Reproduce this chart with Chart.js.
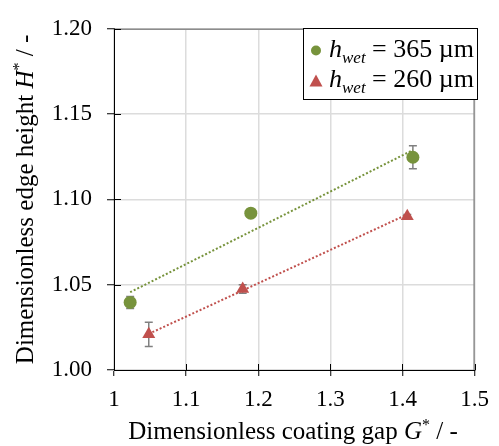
<!DOCTYPE html>
<html>
<head>
<meta charset="utf-8">
<script src="https://cdn.jsdelivr.net/npm/chart.js@4/dist/chart.umd.min.js"></script>
<style>
  html, body { margin: 0; padding: 0; background: #ffffff; }
  #wrap { width: 499px; height: 446px; position: relative; }
</style>
</head>
<body>
<div id="wrap"><canvas id="c" width="499" height="446"></canvas></div>
<script>
// ---- data ----
const xTickValues = [1, 1.1, 1.2, 1.3, 1.4, 1.5];
const xTickLabels = ['1', '1.1', '1.2', '1.3', '1.4', '1.5'];
const yTickValues = [1.00, 1.05, 1.10, 1.15, 1.20];
const yTickLabels = ['1.00', '1.05', '1.10', '1.15', '1.20'];

const seriesSymbol = ['h', 'h'];
const seriesSub = ['wet', 'wet'];
const seriesRest = [' = 365 µm', ' = 260 µm'];

const wet365X = [1.0224, 1.1897, 1.4144];
const wet365Y = [1.0396, 1.0919, 1.1247];
const wet365Err = [0.0035, 0.0010, 0.0068];

const wet260X = [1.0482, 1.1784, 1.4066];
const wet260Y = [1.0209, 1.0475, 1.0901];
const wet260Err = [0.0071, 0.0025, 0.0010];

const trend365X = [1.0224, 1.4144];
const trend365Y = [1.0456, 1.1289];
const trend260X = [1.0482, 1.4066];
const trend260Y = [1.0212, 1.0912];

const xTitle = ['Dimensionless coating gap ', 'G', '*', ' / -'];
const yTitle = ['Dimensionless edge height ', 'H', '*', ' / -'];

// ---- styles ----
const GREEN = '#77933c';
const RED = '#c0504d';
const SERIF = "'Liberation Serif', 'Times New Roman', serif";

const pts = (xs, ys) => xs.map((x, i) => ({ x: x, y: ys[i] }));

const errorBars = {
  id: 'errorBars',
  beforeDatasetsDraw(chart) {
    const ctx = chart.ctx;
    const xs = chart.scales.x, ys = chart.scales.y;
    ctx.save();
    ctx.strokeStyle = '#808080';
    ctx.lineWidth = 1.5;
    chart.data.datasets.forEach(ds => {
      if (!ds.errors) return;
      ds.data.forEach((p, i) => {
        const e = ds.errors[i];
        const px = xs.getPixelForValue(p.x);
        const top = ys.getPixelForValue(p.y + e);
        const bot = ys.getPixelForValue(p.y - e);
        ctx.beginPath();
        ctx.moveTo(px, top); ctx.lineTo(px, bot);
        ctx.moveTo(px - 4, top); ctx.lineTo(px + 4, top);
        ctx.moveTo(px - 4, bot); ctx.lineTo(px + 4, bot);
        ctx.stroke();
      });
    });
    ctx.restore();
  }
};

function drawMixed(ctx, parts, size, cx, y, center) {
  // parts: [normal, italic, superscript, normal]
  const fNormal = size + 'px ' + SERIF;
  const fItalic = 'italic ' + size + 'px ' + SERIF;
  const fSup = Math.round(size * 0.62) + 'px ' + SERIF;
  const segs = [
    { t: parts[0], f: fNormal, dy: 0 },
    { t: parts[1], f: fItalic, dy: 0 },
    { t: parts[2], f: fSup, dy: -size * 0.38 },
    { t: parts[3], f: fNormal, dy: 0 }
  ];
  let total = 0;
  segs.forEach(s => { ctx.font = s.f; s.w = ctx.measureText(s.t).width; total += s.w; });
  let x = center ? cx - total / 2 : cx;
  ctx.textBaseline = 'alphabetic';
  ctx.textAlign = 'left';
  segs.forEach(s => { ctx.font = s.f; ctx.fillText(s.t, x, y + s.dy); x += s.w; });
}

const decorations = {
  id: 'decorations',
  beforeDatasetsDraw(chart) {
    const ctx = chart.ctx;
    const a = chart.chartArea;
    const xs = chart.scales.x, ys = chart.scales.y;
    ctx.save();
    // plot border top & right
    ctx.strokeStyle = '#8c8c8c';
    ctx.lineWidth = 1.5;
    ctx.beginPath();
    ctx.moveTo(a.left, a.top + 0.5);
    ctx.lineTo(a.right - 0.5, a.top + 0.5);
    ctx.lineTo(a.right - 0.5, a.bottom);
    ctx.stroke();
    // inner half of cross tick marks
    ctx.strokeStyle = '#000';
    ctx.lineWidth = 1;
    ctx.beginPath();
    xTickValues.forEach(v => {
      const px = Math.round(xs.getPixelForValue(v)) + 0.5;
      ctx.moveTo(px, a.bottom); ctx.lineTo(px, a.bottom - 6);
    });
    yTickValues.forEach(v => {
      const py = Math.round(ys.getPixelForValue(v)) + 0.5;
      ctx.moveTo(a.left, py); ctx.lineTo(a.left + 7, py);
    });
    ctx.stroke();
    ctx.restore();
  },
  afterDraw(chart) {
    const ctx = chart.ctx;
    const a = chart.chartArea;
    ctx.save();
    ctx.fillStyle = '#000';
    // axis titles
    drawMixed(ctx, xTitle, 25, 293, 439, true);
    ctx.save();
    ctx.translate(33, (a.top + a.bottom) / 2);
    ctx.rotate(-Math.PI / 2);
    drawMixed(ctx, yTitle, 25, 0, 0, true);
    ctx.restore();
    // legend
    const bx = 303.5, by = 28.5, bw = 174, bh = 71;
    ctx.fillStyle = '#fff';
    ctx.fillRect(bx, by, bw, bh);
    ctx.strokeStyle = '#000';
    ctx.lineWidth = 1;
    ctx.strokeRect(bx, by, bw, bh);
    const rowsY = [57, 87];
    const markY = [50.5, 81.5];
    // markers
    ctx.fillStyle = GREEN;
    ctx.beginPath(); ctx.arc(316, markY[0], 5, 0, Math.PI * 2); ctx.fill();
    ctx.fillStyle = RED;
    ctx.beginPath();
    ctx.moveTo(316, markY[1] - 7);
    ctx.lineTo(322.5, markY[1] + 5);
    ctx.lineTo(309.5, markY[1] + 5);
    ctx.closePath(); ctx.fill();
    ctx.fillStyle = '#000';
    ctx.textBaseline = 'alphabetic';
    ctx.textAlign = 'left';
    for (let i = 0; i < 2; i++) {
      let x = 329;
      ctx.font = 'italic 26px ' + SERIF;
      ctx.fillText(seriesSymbol[i], x, rowsY[i]);
      x += ctx.measureText(seriesSymbol[i]).width;
      ctx.font = 'italic 17px ' + SERIF;
      ctx.fillText(seriesSub[i], x, rowsY[i] + 6);
      x += ctx.measureText(seriesSub[i]).width;
      ctx.font = '26px ' + SERIF;
      ctx.fillText(seriesRest[i], x, rowsY[i]);
    }
    ctx.restore();
  }
};

new Chart(document.getElementById('c'), {
  type: 'scatter',
  data: {
    datasets: [
      {
        label: seriesSymbol[0] + seriesSub[0] + seriesRest[0],
        data: pts(wet365X, wet365Y),
        errors: wet365Err,
        backgroundColor: GREEN,
        borderColor: GREEN,
        pointStyle: 'circle',
        pointRadius: 6.5,
        pointBorderWidth: 0,
        order: 0
      },
      {
        label: seriesSymbol[1] + seriesSub[1] + seriesRest[1],
        data: pts(wet260X, wet260Y),
        errors: wet260Err,
        backgroundColor: RED,
        borderColor: RED,
        pointStyle: 'triangle',
        pointRadius: 7.5,
        pointBorderWidth: 0,
        order: 0
      },
      {
        type: 'line',
        label: 'trend 365',
        data: pts(trend365X, trend365Y),
        borderColor: GREEN,
        borderWidth: 2,
        borderDash: [2, 2],
        pointRadius: 0,
        fill: false,
        order: 1
      },
      {
        type: 'line',
        label: 'trend 260',
        data: pts(trend260X, trend260Y),
        borderColor: RED,
        borderWidth: 2,
        borderDash: [2, 2],
        pointRadius: 0,
        fill: false,
        order: 1
      }
    ]
  },
  options: {
    responsive: false,
    animation: false,
    devicePixelRatio: 1,
    layout: { padding: { top: 23, right: 16, bottom: 0, left: 0 } },
    plugins: { legend: { display: false }, tooltip: { enabled: false } },
    scales: {
      x: {
        type: 'linear',
        min: 1, max: 1.5,
        afterBuildTicks: s => { s.ticks = xTickValues.map(v => ({ value: v })); },
        afterFit: s => { s.height = 76; },
        ticks: {
          callback: (v, i) => xTickLabels[i],
          font: { family: SERIF, size: 23 },
          color: '#000',
          padding: 10,
          maxRotation: 0
        },
        grid: { color: '#dcdcdc', lineWidth: 1.5, tickColor: '#000', tickLength: 6, tickWidth: 1 },
        border: { color: '#000', width: 1 },
        title: { display: false }
      },
      y: {
        type: 'linear',
        min: 1.0, max: 1.2,
        afterBuildTicks: s => { s.ticks = yTickValues.map(v => ({ value: v })); },
        afterFit: s => { s.width = 114; },
        ticks: {
          callback: (v, i) => yTickLabels[i],
          font: { family: SERIF, size: 23 },
          color: '#000',
          padding: 15
        },
        grid: { color: '#dcdcdc', lineWidth: 1.5, tickColor: '#000', tickLength: 7, tickWidth: 1 },
        border: { color: '#000', width: 1 },
        title: { display: false }
      }
    }
  },
  plugins: [errorBars, decorations]
});
</script>
</body>
</html>
